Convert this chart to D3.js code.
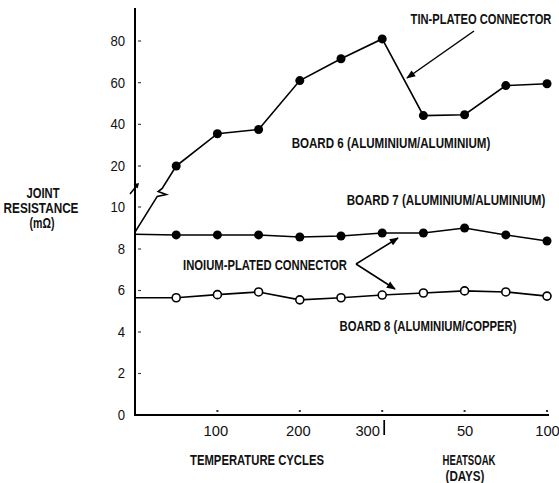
<!DOCTYPE html>
<html><head><meta charset="utf-8">
<script src="https://cdn.jsdelivr.net/npm/d3@7"></script>
<style>
html,body{margin:0;padding:0;background:#fff;}
svg text{font-family:'Liberation Sans',Arial,sans-serif;fill:#111;}
</style></head>
<body><svg id="c" width="559" height="483"></svg>
<script>
// ---- data ----
const pointLabels = ["0","50","100","150","200","250","300","25","50","75","100"]; // cycles then heatsoak days
const xTickIndex = [2,4,6,8,10];
const xTickLabels = ["100","200","300","50","100"];
const yTickValues = [0,2,4,6,8,10,20,40,60,80];
const board6 = [8.8, 20, 35.5, 37.5, 61, 71.5, 81, 44.2, 44.6, 58.6, 59.5];   // tin-plated
const board7 = [8.7, 8.67, 8.67, 8.67, 8.57, 8.62, 8.76, 8.76, 9.0, 8.67, 8.38]; // indium
const board8 = [5.65, 5.65, 5.8, 5.93, 5.55, 5.65, 5.78, 5.88, 5.98, 5.93, 5.73]; // indium

const svg = d3.select("#c");
const x = d3.scaleLinear().domain([0, pointLabels.length-1]).range([135, 547]);
// broken axis: piecewise linear
const y = d3.scaleLinear().domain([0, 8, 10, 20, 80]).range([415, 249, 207, 166, 41]);

// axes lines
svg.append("line").attr("x1",135).attr("x2",135).attr("y1",8).attr("y2",416)
  .attr("stroke","#000").attr("stroke-width",2);
svg.append("line").attr("x1",134).attr("x2",549).attr("y1",415).attr("y2",415)
  .attr("stroke","#000").attr("stroke-width",2);

// y ticks
const yAxis = d3.axisLeft(y).tickValues(yTickValues).tickSize(0).tickPadding(10)
  .tickFormat(d=>String(d));
const gy = svg.append("g").attr("transform","translate(135,0)").call(yAxis);
gy.select(".domain").remove();
gy.selectAll("text").attr("font-size",14).style("font-family","'Liberation Sans',Arial,sans-serif")
  .attr("fill","#111").attr("textLength",d=>String(d).length*7.3).attr("lengthAdjust","spacingAndGlyphs");
svg.selectAll(".ytm").data(yTickValues.filter(d=>d>0)).enter().append("line")
  .attr("x1",138).attr("x2",141).attr("y1",d=>y(d)).attr("y2",d=>y(d))
  .attr("stroke","#444").attr("stroke-width",1.2);

// x ticks
const xAxis = d3.axisBottom(x).tickValues(xTickIndex).tickSize(0).tickPadding(11)
  .tickFormat((d,i)=>xTickLabels[i]);
const gx = svg.append("g").attr("transform","translate(0,415)").call(xAxis);
gx.select(".domain").remove();
gx.selectAll("text").attr("font-size",14).style("font-family","'Liberation Sans',Arial,sans-serif")
  .attr("fill","#111").attr("textLength",(d,i)=>xTickLabels[i].length*8.2).attr("lengthAdjust","spacingAndGlyphs")
  .attr("dx",(d,i)=>i===2 ? -15 : (i===0||i===1 ? -2 : 0));
svg.selectAll(".xtm").data(xTickIndex).enter().append("rect")
  .attr("x",d=>x(d)-1).attr("y",410).attr("width",2).attr("height",2).attr("fill","#333");
// separator bar after 300
svg.append("line").attr("x1",x(6)+2).attr("x2",x(6)+2).attr("y1",420).attr("y2",435)
  .attr("stroke","#000").attr("stroke-width",1.7);

// text helper: condensed by horizontal scaling to a target width
const label = (t, cx, by, w, fs=14.5) => {
  const g = svg.append("g");
  const tx = g.append("text").attr("x",0).attr("y",0)
    .attr("text-anchor","middle").attr("font-size",fs).attr("font-weight","bold").text(t);
  const nat = tx.node().getComputedTextLength();
  g.attr("transform", `translate(${cx},${by}) scale(${w/nat},1)`);
  return g;
};
label("JOINT", 43, 198, 33, 14);
label("RESISTANCE", 41, 213, 75, 14);
label("(mΩ)", 42, 228, 25, 14);
label("TEMPERATURE CYCLES", 257, 465, 134);
label("HEATSOAK", 469, 465, 53);
label("(DAYS)", 465, 481, 39);

// lines
const line = d3.line().x(d=>x(d[0])).y(d=>y(d[1]));
const lineStyle = s => s.attr("fill","none").attr("stroke","#000").attr("stroke-width",1.6);

// board 6 with break symbol on first segment
const p0 = [x(0), y(board6[0])], p1 = [x(1), y(board6[1])];
const lerp = t => [p0[0]+(p1[0]-p0[0])*t, p0[1]+(p1[1]-p0[1])*t];
const a = lerp(0.54), b = lerp(0.66);
svg.append("path").call(lineStyle)
  .attr("d", `M${p0}L${a}L${a[0]+9},${a[1]-2}L${b[0]-4},${b[1]+3}L${b}L${p1}`);
svg.append("path").datum(board6.map((v,i)=>[i,v]).slice(1)).call(lineStyle).attr("d", line);
// axis break marker
svg.append("path").attr("d","M130,194 L138,184 M134,185 L138,184 L137,188").attr("stroke","#000").attr("stroke-width",1.5).attr("fill","none");

svg.append("path").datum(board7.map((v,i)=>[i,v])).call(lineStyle).attr("d", line);
svg.append("path").datum(board8.map((v,i)=>[i,v])).call(lineStyle).attr("d", line);

svg.selectAll(".d6").data(board6.map((v,i)=>[i,v]).slice(1)).enter().append("circle")
  .attr("cx",d=>x(d[0])).attr("cy",d=>y(d[1])).attr("r",4.5).attr("fill","#000");
svg.selectAll(".d7").data(board7.map((v,i)=>[i,v]).slice(1)).enter().append("circle")
  .attr("cx",d=>x(d[0])).attr("cy",d=>y(d[1])).attr("r",4.5).attr("fill","#000");
svg.selectAll(".d8").data(board8.map((v,i)=>[i,v]).slice(1)).enter().append("circle")
  .attr("cx",d=>x(d[0])).attr("cy",d=>y(d[1])).attr("r",4).attr("fill","#fff")
  .attr("stroke","#000").attr("stroke-width",1.6);

// annotations
label("TIN-PLATEO CONNECTOR", 481, 24, 141);
label("BOARD 6 (ALUMINIUM/ALUMINIUM)", 391, 148, 199);
label("BOARD 7 (ALUMINIUM/ALUMINIUM)", 446, 205, 199);
label("INOIUM-PLATED CONNECTOR", 265, 270, 164);
label("BOARD 8 (ALUMINIUM/COPPER)", 428, 331, 177);

svg.append("defs").append("marker").attr("id","ah").attr("viewBox","0 0 10 10")
  .attr("refX",9).attr("refY",5).attr("markerWidth",11).attr("markerHeight",9)
  .attr("orient","auto").attr("markerUnits","userSpaceOnUse")
  .append("path").attr("d","M0,1 L10,5 L0,9 Z").attr("fill","#000");
const arrow = (x1,y1,x2,y2) => svg.append("line").attr("x1",x1).attr("y1",y1).attr("x2",x2).attr("y2",y2)
  .attr("stroke","#000").attr("stroke-width",1.5).attr("marker-end","url(#ah)");
arrow(474,31,407,78);
arrow(356,264,398,238);
arrow(356,264,395,289);
</script></body></html>
